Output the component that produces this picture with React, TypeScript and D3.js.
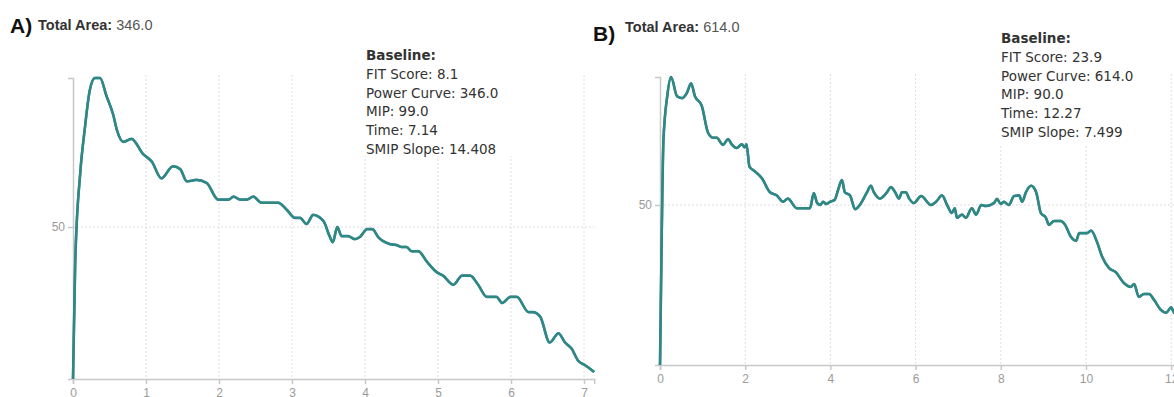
import React, { useEffect, useRef } from "react";
import * as d3 from "d3";

// Panel A data (time in minutes, value)
const aTime = [0, 0.03, 0.1, 0.16, 0.23, 0.3, 0.37, 0.46, 0.55, 0.6, 0.69, 0.8, 0.96, 1.08, 1.21, 1.37, 1.47, 1.56, 1.69, 1.83, 1.99, 2.13, 2.2, 2.29, 2.38, 2.47, 2.58, 2.81, 2.93, 3.04, 3.11, 3.2, 3.29, 3.43, 3.52, 3.56, 3.62, 3.68, 3.77, 3.86, 3.93, 4.03, 4.1, 4.18, 4.34, 4.44, 4.5, 4.57, 4.64, 4.73, 4.85, 4.99, 5.07, 5.21, 5.33, 5.44, 5.55, 5.67, 5.8, 5.88, 5.99, 6.08, 6.24, 6.3, 6.4, 6.53, 6.65, 6.74, 6.83, 6.92, 7.01, 7.14];
const aValue = [0, 38, 68, 82, 95, 99, 99, 93, 87, 82, 78, 79, 74, 71.5, 66, 70, 69, 65, 65.5, 64.5, 59, 59, 60, 59, 59, 60, 58, 58, 55.6, 53, 53, 51, 54, 52, 46.7, 45, 50, 47, 47, 46, 46.7, 49.3, 49.3, 46.7, 44.4, 44, 43.4, 43.4, 42, 42, 38.5, 35, 34, 31, 34, 34, 31, 27, 27, 25, 27, 27, 22, 22, 20.5, 12, 15, 12, 10, 6, 4.6, 2.3];

// Panel B data
const bTime = [0, 0.04, 0.08, 0.17, 0.26, 0.4, 0.52, 0.63, 0.73, 0.82, 0.98, 1.13, 1.25, 1.33, 1.48, 1.6, 1.68, 1.8, 1.92, 1.99, 2.03, 2.1, 2.23, 2.39, 2.58, 2.74, 2.89, 3.0, 3.21, 3.36, 3.52, 3.61, 3.69, 3.76, 3.83, 3.9, 3.99, 4.1, 4.18, 4.27, 4.34, 4.46, 4.58, 4.69, 4.86, 4.95, 5.02, 5.16, 5.33, 5.42, 5.52, 5.61, 5.68, 5.77, 5.85, 5.96, 6.13, 6.36, 6.48, 6.62, 6.74, 6.85, 6.92, 6.97, 7.09, 7.18, 7.32, 7.42, 7.54, 7.65, 7.84, 7.91, 8.0, 8.07, 8.19, 8.31, 8.43, 8.5, 8.59, 8.71, 8.83, 8.94, 9.06, 9.13, 9.25, 9.41, 9.5, 9.65, 9.77, 9.84, 10.02, 10.12, 10.26, 10.38, 10.54, 10.7, 10.89, 11.05, 11.13, 11.24, 11.36, 11.48, 11.6, 11.76, 11.88, 12.0, 12.07, 12.27];
const bValue = [0, 40, 70, 84, 90, 84, 83.4, 85, 88, 84, 81, 72.5, 71, 71, 68.8, 70.6, 69, 67.8, 69, 68, 69, 62, 60.5, 58.4, 54, 53, 51, 52, 49, 49, 49, 53.7, 50.6, 50, 51, 50.3, 51, 51.6, 54.7, 57.8, 54, 53, 48.7, 50, 54, 56, 54, 52, 54, 55.6, 54, 52, 54, 54, 52, 50.6, 52.8, 50, 51, 53, 50, 47.5, 49, 46, 47, 46, 49, 47, 50, 49.7, 50.6, 51.9, 50.3, 51, 50, 52.8, 53, 51, 54, 56, 54, 47.5, 46, 43.8, 45, 45, 44, 40, 38.8, 41.2, 41.2, 42, 38.4, 33.8, 30.3, 29, 25.6, 24.4, 25.3, 21.3, 22.2, 22.2, 20.3, 17.2, 16.3, 18, 16.3, 15];

const aTicks = [0, 1, 2, 3, 4, 5, 6, 7];
const bTicks = [0, 2, 4, 6, 8, 10, 12];
const yTicks = [50];

const aLabel = "A)";
const bLabel = "B)";
const aArea = "346.0";
const bArea = "614.0";
const aInfo = ["FIT Score: 8.1", "Power Curve: 346.0", "MIP: 99.0", "Time: 7.14", "SMIP Slope: 14.408"];
const bInfo = ["FIT Score: 23.9", "Power Curve: 614.0", "MIP: 90.0", "Time: 12.27", "SMIP Slope: 7.499"];

const LINE = "#2e8a7c";
const GRID = "#dedede";
const AXIS = "#c8c8c8";
const TICK = "#9a9a9a";

type Panel = {
  time: number[];
  value: number[];
  ticks: number[];
  xMax: number;
  yMax: number;
  x0: number;
  x1: number;
  y0: number;
  y1: number;
  label: string;
  labelX: number;
  labelY: number;
  area: string;
  areaX: number;
  areaY: number;
  info: string[];
  infoX: number;
  infoY: number;
  box: [number, number, number, number];
};

const panels: Panel[] = [
  {
    time: aTime, value: aValue, ticks: aTicks, xMax: 7.14, yMax: 99,
    x0: 73, x1: 73 + 7.14 * 73, y0: 379, y1: 379 - 99 * 3.04,
    label: aLabel, labelX: 10, labelY: 33, area: aArea, areaX: 38, areaY: 30,
    info: aInfo, infoX: 366, infoY: 60, box: [362, 42, 200, 114],
  },
  {
    time: bTime, value: bValue, ticks: bTicks, xMax: 12.27, yMax: 90,
    x0: 660, x1: 660 + 12.27 * 42.6, y0: 365, y1: 365 - 90 * 3.2,
    label: bLabel, labelX: 593, labelY: 41, area: bArea, areaX: 625, areaY: 32,
    info: bInfo, infoX: 1001, infoY: 43, box: [997, 24, 150, 120],
  },
];

export default function App() {
  const ref = useRef<SVGSVGElement>(null);
  useEffect(() => {
    const svg = d3.select(ref.current);
    svg.selectAll("*").remove();
    panels.forEach((p) => {
      const x = d3.scaleLinear().domain([0, p.xMax]).range([p.x0, p.x1]);
      const y = d3.scaleLinear().domain([0, p.yMax]).range([p.y0, p.y1]);
      const g = svg.append("g");
      // grid
      g.selectAll("line.vg").data(p.ticks.filter((t) => t > 0)).join("line")
        .attr("x1", (d) => x(d)).attr("x2", (d) => x(d))
        .attr("y1", p.y1 - 3).attr("y2", p.y0)
        .attr("stroke", GRID).attr("stroke-dasharray", "2,2");
      g.selectAll("line.hg").data(yTicks).join("line")
        .attr("x1", p.x0).attr("x2", p.x1)
        .attr("y1", (d) => y(d)).attr("y2", (d) => y(d))
        .attr("stroke", GRID).attr("stroke-dasharray", "2,2");
      // axes
      const xa = g.append("g").attr("transform", `translate(0,${p.y0})`)
        .call(d3.axisBottom(x).tickValues(p.ticks).tickSize(5).tickSizeOuter(5).tickFormat(d3.format("d")));
      const ya = g.append("g").attr("transform", `translate(${p.x0},0)`)
        .call(d3.axisLeft(y).tickValues(yTicks).tickSize(5).tickSizeOuter(5));
      [xa, ya].forEach((a) => {
        a.selectAll("path,line").attr("stroke", AXIS).attr("stroke-width", 1.5);
        a.selectAll("text").attr("fill", TICK).attr("font-size", 12)
          .attr("font-family", "'Liberation Sans Narrow', 'Liberation Sans', Arial, sans-serif");
      });
      xa.selectAll("text").attr("dy", "0.8em");
      // line
      const line = d3.line<number>().x((_, i) => x(p.time[i])).y((d) => y(d)).curve(d3.curveMonotoneX);
      g.append("path").datum(p.value).attr("d", line).attr("fill", "none")
        .attr("stroke", "#3a78c2").attr("stroke-width", 2.6);
      g.append("path").datum(p.value).attr("d", line).attr("fill", "none")
        .attr("stroke", LINE).attr("stroke-width", 2.4);
      // info box
      g.append("rect").attr("x", p.box[0]).attr("y", p.box[1]).attr("width", p.box[2]).attr("height", p.box[3]).attr("fill", "#fff");
      const t = g.append("text").attr("font-family", "'DejaVu Sans', Verdana, sans-serif").attr("font-size", 13.5).attr("fill", "#333");
      t.append("tspan").attr("x", p.infoX).attr("y", p.infoY).attr("font-weight", "bold").text("Baseline:");
      p.info.forEach((s, i) => {
        t.append("tspan").attr("x", p.infoX).attr("y", p.infoY + (i + 1) * 18.8).text(s);
      });
      // headers
      g.append("text").attr("x", p.labelX).attr("y", p.labelY)
        .attr("font-family", "'Liberation Sans', Arial, sans-serif").attr("font-weight", "bold")
        .attr("font-size", 21).attr("fill", "#111").text(p.label);
      const h = g.append("text").attr("x", p.areaX).attr("y", p.areaY)
        .attr("font-family", "'Liberation Sans Narrow', 'Liberation Sans', Arial, sans-serif")
        .attr("font-size", 14.5).attr("fill", "#333");
      h.append("tspan").attr("font-weight", "bold").text("Total Area: ");
      h.append("tspan").attr("fill", "#555").text(p.area);
    });
  }, []);
  return (
    <svg ref={ref} width={1174} height={397}
      style={{ position: "absolute", left: 0, top: 0, background: "#fff" }} />
  );
}
